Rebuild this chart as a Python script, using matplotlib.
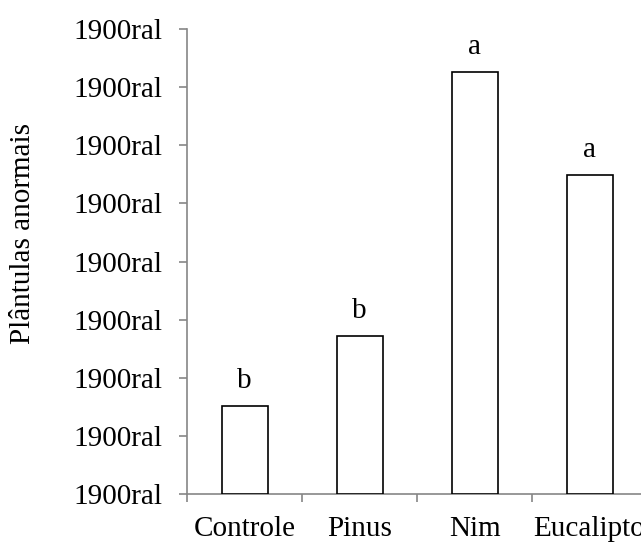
import matplotlib.pyplot as plt
import numpy as np

plt.rcParams['font.family'] = ['Liberation Serif', 'DejaVu Serif']

categorias = ['Controle', 'Pinus', 'Nim', 'Eucalipto']
valores = [1.51, 2.72, 7.26, 5.49]
letras = ['b', 'b', 'a', 'a']
yticks = np.arange(0, 9, 1)
ytick_labels = ['1900ral'] * len(yticks)

fontsize = 21
cinza = '#868686'

fig = plt.figure(figsize=(6.41, 5.43), dpi=100)
ax = fig.add_axes([187/641, 49/543, 460/641, 465/543])

x = np.arange(len(categorias))
bars = ax.bar(x, valores, width=0.4, color='white', edgecolor='black', linewidth=1.2, zorder=3)

for xi, v, l in zip(x, valores, letras):
    ax.annotate(l, (xi, v), xytext=(0, 13), textcoords='offset points',
                ha='center', va='baseline', fontsize=fontsize)

ax.set_xlim(-0.5, 3.5)
ax.set_ylim(0, 8)
ax.set_yticks(yticks)
ax.set_yticklabels(ytick_labels, fontsize=fontsize)

# ticks between categories, labels at centres
ax.set_xticks(np.arange(-0.5, 4, 1))
ax.set_xticklabels([])
ax.set_xticks(x, minor=True)
ax.set_xticklabels(categorias, minor=True, fontsize=fontsize)
ax.tick_params(axis='x', which='minor', length=0, pad=15.5)
ax.tick_params(axis='x', which='major', length=6, width=1.2, color=cinza, direction='out')
ax.tick_params(axis='y', length=5.5, width=1.2, color=cinza, direction='out', pad=12)

for s in ['top', 'right']:
    ax.spines[s].set_visible(False)
for s in ['left', 'bottom']:
    ax.spines[s].set_color(cinza)
    ax.spines[s].set_linewidth(1.2)

fig.text(23/641, 1 - 234/543, 'Plântulas anormais', rotation=90,
         ha='center', va='center', fontsize=fontsize)

fig.savefig('out.png', dpi=100)
